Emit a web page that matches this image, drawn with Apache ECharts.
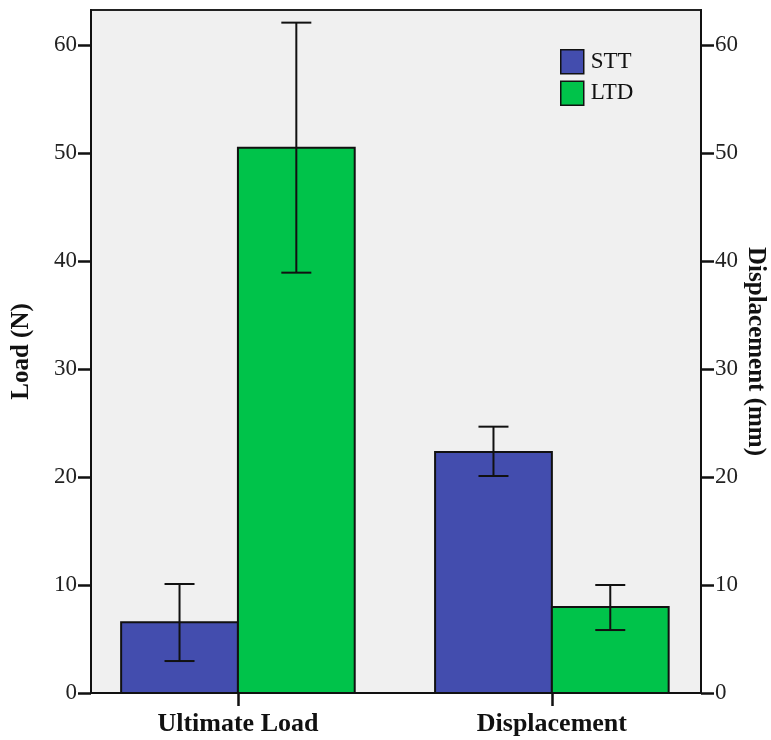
<!DOCTYPE html>
<html>
<head>
<meta charset="utf-8">
<script src="https://cdn.jsdelivr.net/npm/echarts@6/dist/echarts.min.js"></script>
<style>html,body{margin:0;padding:0;background:#fff}#c{width:771px;height:740px}</style>
</head>
<body>
<div id="c"></div>
<script>
var categories = ['Ultimate Load', 'Displacement'];
var seriesNames = ['STT', 'LTD'];
var sttValues = [6.55, 22.31];
var ltdValues = [50.49, 7.96];
var sttLow = [2.96, 20.09];
var sttHigh = [10.09, 24.66];
var ltdLow = [38.92, 5.83];
var ltdHigh = [62.07, 10.0];
var yTicks = [0, 10, 20, 30, 40, 50, 60];

var FONT = 'Liberation Serif';
var BAR_W = 0.372; // bar width in category units

function barData(vals, lo, hi) {
  return vals.map(function (v, i) { return [i, v, lo[i], hi[i]]; });
}

function makeBarRender(side) {
  return function (params, api) {
    var cat = api.value(0), v = api.value(1), lo = api.value(2), hi = api.value(3);
    var base = api.coord([cat, 0]);
    var top = api.coord([cat, v]);
    var w = api.size([BAR_W, 0])[0];
    var x0 = side < 0 ? base[0] - w : base[0];
    var cx = x0 + w / 2;
    var pLo = api.coord([cat, lo]);
    var pHi = api.coord([cat, hi]);
    var cap = 15;
    return {
      type: 'group',
      children: [
        { type: 'rect', shape: { x: x0, y: top[1], width: w, height: base[1] - top[1] },
          style: { fill: api.visual('color'), stroke: '#111', lineWidth: 2 } },
        { type: 'line', shape: { x1: cx, y1: pLo[1], x2: cx, y2: pHi[1] }, style: { stroke: '#111', lineWidth: 2 } },
        { type: 'line', shape: { x1: cx - cap, y1: pHi[1], x2: cx + cap, y2: pHi[1] }, style: { stroke: '#111', lineWidth: 2 } },
        { type: 'line', shape: { x1: cx - cap, y1: pLo[1], x2: cx + cap, y2: pLo[1] }, style: { stroke: '#111', lineWidth: 2 } }
      ]
    };
  };
}

var yAxisCommon = {
  type: 'value', min: 0, max: 63.24, interval: 10,
  splitLine: { show: false },
  axisLine: { show: true, onZero: false, lineStyle: { color: '#111', width: 2 } },
  axisTick: { show: true, length: 13, customValues: yTicks, lineStyle: { color: '#111', width: 2.5 } },
  axisLabel: { fontFamily: FONT, fontSize: 23, color: '#222', margin: 14,
    customValues: yTicks },
  nameLocation: 'middle',
  nameMoveOverlap: false,
  nameTextStyle: { fontFamily: FONT, fontSize: 25, fontWeight: 'bold', color: '#111' }
};

var chart = echarts.init(document.getElementById('c'), null, { renderer: 'canvas' });
chart.setOption({
  animation: false,
  color: ['#434DAE', '#00C34A'],
  grid: { left: 91, right: 70, top: 10, bottom: 47, show: true,
    outerBoundsMode: 'none', containLabel: false,
    backgroundColor: '#F0F0F0', borderColor: '#222', borderWidth: 2 },
  legend: {
    orient: 'vertical', left: 560, top: 49, padding: 0,
    itemWidth: 23, itemHeight: 24, itemGap: 6,
    icon: 'rect',
    itemStyle: { borderColor: '#111', borderWidth: 1.5 },
    textStyle: { fontFamily: FONT, fontSize: 23, color: '#111', padding: [0, 0, 0, 2] },
    data: seriesNames
  },
  xAxis: {
    type: 'value', min: -0.468, max: 1.475,
    splitLine: { show: false },
    axisLine: { show: true, onZero: false, lineStyle: { color: '#111', width: 2 } },
    axisTick: { show: true, length: 13, customValues: [0, 1], lineStyle: { color: '#111', width: 2.5 } },
    axisLabel: { customValues: [0, 1], margin: 18,
      formatter: function (v) { return categories[Math.round(v)]; },
      fontFamily: FONT, fontSize: 26, fontWeight: 'bold', color: '#111' }
  },
  yAxis: [
    Object.assign({}, yAxisCommon, { position: 'left', name: 'Load (N)', nameRotate: 90, nameGap: 57 }),
    Object.assign({}, yAxisCommon, { position: 'right', name: 'Displacement (mm)', nameRotate: -90, nameGap: 42 })
  ],
  series: [
    { name: seriesNames[0], type: 'custom', renderItem: makeBarRender(-1),
      encode: { x: 0, y: 1 }, data: barData(sttValues, sttLow, sttHigh) },
    { name: seriesNames[1], type: 'custom', renderItem: makeBarRender(1),
      encode: { x: 0, y: 1 }, data: barData(ltdValues, ltdLow, ltdHigh) }
  ]
});
</script>
</body>
</html>
